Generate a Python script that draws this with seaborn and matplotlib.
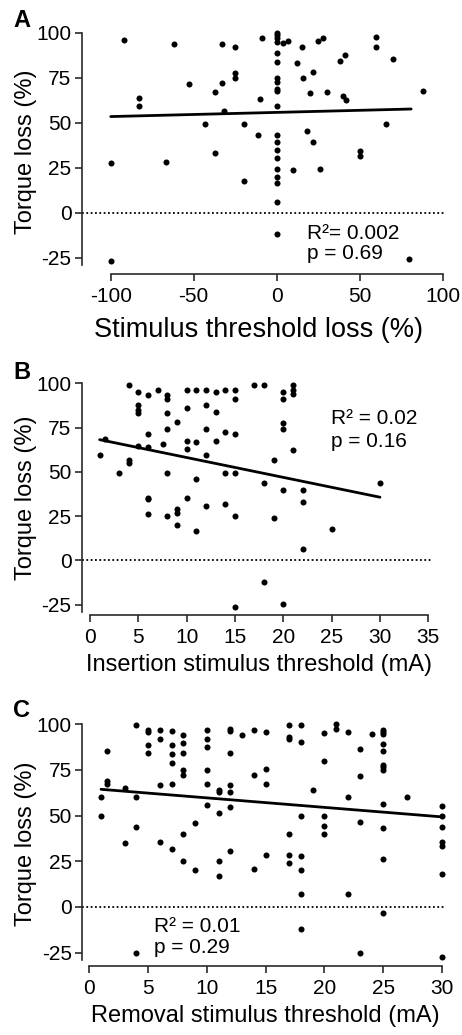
import matplotlib
matplotlib.use("Agg")
import matplotlib.pyplot as plt
import numpy as np
import pandas as pd
import seaborn as sns

# ---------------- data ----------------
# Panel A: stimulus threshold loss (%) vs torque loss (%)
a_x = [-92, -62, -33, -25, -9,
       0, 0, 0, 0, 0, 0, 0, 0, 0, 0, 0, 0, 0, 0, 0, 0, 0, 0, 0, 0,
       4, 7, 15, 25, 28, 12, 22, 16, 20, 30, 38, 41, 40, 42, 60, 60, 70, 88,
       66, 18, 22, 50, 50, 10, 26, -20, -11, -20, -43, -37, -67, -100, -100,
       80, -83, -83, -53, -37, -33, -25, -25, -10, -32]
a_y = [96, 94, 94, 92, 97,
       100, 99, 97, 95, 89, 84, 75, 72.5, 69, 68, 59.5, 43.5, 39.5, 35, 30.5,
       24.5, 20, 16.5, 6, -12,
       94.5, 95.5, 92, 95.5, 97, 83.5, 78.5, 75, 66.5, 67, 84.5, 88, 65, 62.5,
       97.5, 92, 85.5, 68,
       49.5, 45.5, 39.5, 34.5, 31.5, 23.5, 24.5, 17.5, 43.5, 49.5, 49.5, 33,
       28, 27.5, -27, -25.5, 64, 59.5, 71.5, 67, 72, 77.5, 75, 63, 56.5]
# fitted regression line as drawn in the figure (end points)
a_fit_x = [-100, 81]
a_fit_y = [53.5, 57.7]

# Panel B: insertion stimulus threshold (mA) vs torque loss (%)
b_x = [4, 5, 6, 7, 8, 8, 10, 11, 12, 13, 14, 15, 15, 17, 18, 20, 20, 21, 21, 21,
       5, 5, 5, 8, 10, 12, 13, 9, 8, 6, 12, 14, 15, 20, 20,
       1.5, 5, 6, 7.5, 10, 10, 11, 13, 21, 1, 4, 4, 3, 12, 8, 14, 15, 19,
       11, 18, 20, 22, 30, 22, 6, 6, 10, 12, 14, 9, 9, 6, 8, 15, 19, 9, 11,
       25, 22, 18, 20, 15]
b_y = [99, 95, 93.5, 96, 93.5, 91, 96.5, 96, 96.5, 95, 96.5, 96.5, 91, 99, 99,
       95, 91, 99, 96.5, 94,
       88, 85, 83.5, 83, 86, 88, 84, 78, 74, 71.5, 74, 72.5, 71.5, 77.5, 74,
       68.5, 64.5, 64, 66, 67.5, 63, 67, 67.5, 62.5, 59.5, 56.5, 55, 49.5,
       59.5, 49.5, 49.5, 49.5, 56.5,
       46, 43.5, 40, 40, 43.5, 33, 35.5, 34.5, 35.5, 30.5, 32, 29, 27, 26.5,
       25, 25, 24, 20, 16.5, 18, 6.5, -12, -24.5, -26.5]
b_fit_x = [1, 30]
b_fit_y = [68.2, 35.7]

# Panel C: removal stimulus threshold (mA) vs torque loss (%)
c_x = [1, 1, 1.5, 1.5, 1.5, 3, 3, 4, 4, 4, 4, 5, 5, 5, 5, 6, 6, 6, 6,
       7, 7, 7, 7, 7, 7, 8, 8, 8, 8, 8, 8, 8, 9, 9,
       10, 10, 10, 10, 10, 10, 11, 11, 11, 11, 11,
       12, 12, 12, 12, 12, 12, 12, 13, 14, 14, 14, 15, 15, 15, 15,
       17, 17, 17, 17, 17, 17, 18, 18, 18, 18, 18, 18, 18, 19,
       20, 20, 20, 20, 20, 21, 21, 22, 22, 22, 23, 23, 23, 23, 24,
       25, 25, 25, 25, 25, 25, 25, 25, 25, 25, 25, 25, 27,
       30, 30, 30, 30, 30, 30, 30]
c_y = [60, 50, 85.5, 69, 67.5, 65, 35, 99.5, 60, 44, -25, 97, 96, 88.5, 84.5,
       97, 92, 66.5, 35.5,
       96.5, 88.5, 83.5, 79, 67.5, 32, 94, 89.5, 84.5, 75, 72, 40, 25, 46, 20,
       97, 92, 87.5, 75, 67.5, 56, 64, 63, 51.5, 25, 17,
       97.5, 96.5, 84, 66.5, 63, 54.5, 30.5, 94, 97, 72.5, 21, 96, 75.5, 67.5,
       28.5,
       99.5, 93, 92, 40, 28.5, 24, 99.5, 90.5, 50, 28, 20, 7, -12, 64,
       95, 80, 50, 44.5, 40, 100, 97.5, 96, 60, 7, 86.5, 71.5, 46.5, -25, 94.5,
       97, 96, 94.5, 89, 85.5, 77.5, 76.5, 75, 56.5, 43, 26.5, -3.5, 60,
       55, 50, 44, 35.5, 33.5, 18, -27.5]
c_fit_x = [1, 30]
c_fit_y = [64.4, 49.3]

y_ticks = [-25, 0, 25, 50, 75, 100]
a_xticks = [-100, -50, 0, 50, 100]
b_xticks = [0, 5, 10, 15, 20, 25, 30, 35]
c_xticks = [0, 5, 10, 15, 20, 25, 30]
y_label = "Torque loss (%)"
a_xlabel = "Stimulus threshold loss (%)"
b_xlabel = "Insertion stimulus threshold (mA)"
c_xlabel = "Removal stimulus threshold (mA)"
a_stats = ["R\u00b2= 0.002", "p = 0.69"]
b_stats = ["R\u00b2 = 0.02", "p = 0.16"]
c_stats = ["R\u00b2 = 0.01", "p = 0.29"]

# ---------------- style ----------------
sns.set_theme(style="ticks")
plt.rcParams["font.family"] = ["Liberation Sans", "DejaVu Sans"]
plt.rcParams["axes.unicode_minus"] = False
plt.rcParams["text.color"] = "black"
plt.rcParams["axes.labelcolor"] = "black"

W, H = 462, 1035
fig = plt.figure(figsize=(W / 100, H / 100), dpi=100)

panels = [
    dict(letter="A", x=a_x, y=a_y, fx=a_fit_x, fy=a_fit_y, xticks=a_xticks,
         xlabel=a_xlabel, stats=a_stats, xlab_fs=19.5, xlab_x=258,
         box=(81.7, 29.4, 446.0, 274.0), xlim=(-117.5, 102), ylim=(-34.1, 102),
         xb=(-100, 100), stat_xy=(18, -14.5, -25.5), letter_y=9, xlab_c=330),
    dict(letter="B", x=b_x, y=b_y, fx=b_fit_x, fy=b_fit_y, xticks=b_xticks,
         xlabel=b_xlabel, stats=b_stats, xlab_fs=17, xlab_x=None,
         box=(81.7, 379.8, 431.2, 615.0), xlim=(-0.86, 35.3), ylim=(-30.8, 102),
         xb=(0, 35), stat_xy=(24.9, 77, 64), letter_y=361, xlab_c=665),
    dict(letter="C", x=c_x, y=c_y, fx=c_fit_x, fy=c_fit_y, xticks=c_xticks,
         xlabel=c_xlabel, stats=c_stats, xlab_fs=17, xlab_x=None,
         box=(82.0, 720.6, 445.6, 966.0), xlim=(-0.62, 30.3), ylim=(-32.3, 102),
         xb=(0, 30), stat_xy=(5.5, -13.5, -25.0), letter_y=699, xlab_c=1016),
]

for p in panels:
    l, t, r, b = p["box"]
    ax = fig.add_axes([l / W, 1 - b / H, (r - l) / W, (b - t) / H])
    df = pd.DataFrame({"x": p["x"], "y": p["y"]})
    fit = pd.DataFrame({"x": p["fx"], "y": p["fy"]})
    ax.axhline(0, color="black", lw=1.3, ls=(0, (1, 1.4)), zorder=1)
    sns.scatterplot(data=df, x="x", y="y", ax=ax, s=19, color="black",
                    linewidth=0, alpha=1, clip_on=False, zorder=3)
    sns.lineplot(data=fit, x="x", y="y", ax=ax, color="black", lw=2.0, zorder=2)
    ax.set_xlim(*p["xlim"])
    ax.set_ylim(*p["ylim"])
    ax.set_xticks(p["xticks"])
    ax.set_yticks(y_ticks)
    ax.set_xticklabels([str(v) for v in p["xticks"]])
    ax.set_yticklabels([str(v) for v in y_ticks])
    for s in ("top", "right"):
        ax.spines[s].set_visible(False)
    for s in ("left", "bottom"):
        ax.spines[s].set_linewidth(1.2)
        ax.spines[s].set_color("#2a2a2a")
    ax.spines["bottom"].set_bounds(*p["xb"])
    ax.spines["left"].set_bounds(-29, 100)
    ax.tick_params(axis="both", direction="out", length=4.8, width=1.2,
                   color="#2a2a2a", labelsize=15, labelcolor="black")
    ax.tick_params(axis="y", pad=2.5)
    ax.tick_params(axis="x", pad=4.5)
    ax.set_xlabel(p["xlabel"], fontsize=p["xlab_fs"], color="black", va="center")
    ax.set_ylabel(y_label, fontsize=17, color="black")
    aw = r - l
    ah = b - t
    ax.yaxis.set_label_coords((37 - l) / aw, 0.5)
    if p["xlab_x"] is None:
        x0 = ax.transData.transform((p["xb"][0], 0))[0]
        x1 = ax.transData.transform((p["xb"][1], 0))[0]
        xc = (x0 + x1) / 2 - ax.transAxes.transform((0, 0))[0]
    else:
        xc = p["xlab_x"] - l
    ax.xaxis.set_label_coords(xc / aw, -(p["xlab_c"] - b) / ah)
    sx, sy1, sy2 = p["stat_xy"]
    ax.text(sx, sy1, p["stats"][0], fontsize=15, va="baseline", ha="left", color="black")
    ax.text(sx, sy2, p["stats"][1], fontsize=15, va="baseline", ha="left", color="black")
    fig.text(13 / W, 1 - p["letter_y"] / H, p["letter"], fontsize=17,
             fontweight="bold", va="top", ha="left", color="black")

fig.savefig("out.png", dpi=100)
